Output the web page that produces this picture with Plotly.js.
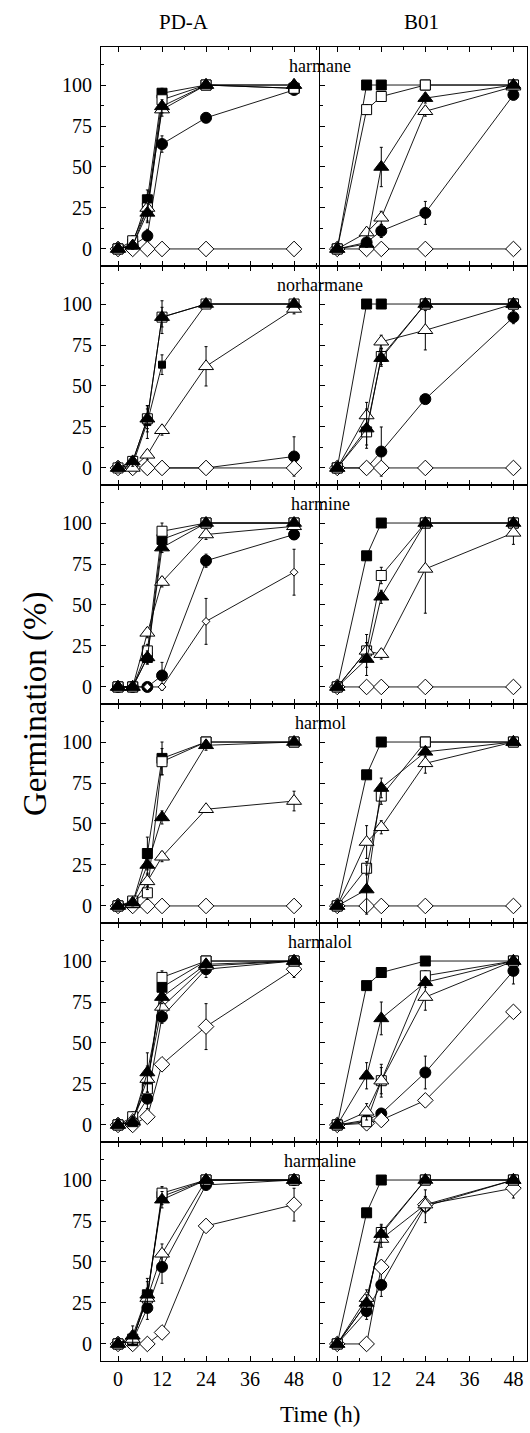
<!DOCTYPE html>
<html>
<head>
<meta charset="utf-8">
<script src="https://cdn.plot.ly/plotly-3.0.1.min.js"></script>
<style>html,body{margin:0;padding:0;background:#fff}#chart{width:530px;height:1433px}</style>
</head>
<body>
<div id="chart"></div>
<script>
// ---- data ----
const timesPDA = [0, 4, 8, 12, 24, 48];
const timesB01 = [0, 8, 12, 24, 48];
const compounds = ['harmane', 'norharmane', 'harmine', 'harmol', 'harmalol', 'harmaline'];
const columns = ['PD-A', 'B01'];
const xTickVals = [0, 12, 24, 36, 48];
const yTickVals = [0, 25, 50, 75, 100];
// series order: filled square, open square, filled triangle, open triangle, filled circle, open diamond
const seriesNames = ['filled square', 'open square', 'filled triangle', 'open triangle', 'filled circle', 'open diamond'];

const harmane_PDA = [
  [0, 3, 30, 95, 100, 98],
  [0, 5, 25, 91, 100, 98],
  [0, 2, 22, 87, 100, 100],
  [0, 2, 25, 85, 100, 100],
  [0, 2, 8, 64, 80, 97],
  [0, 0, 0, 0, 0, 0]];
const harmane_B01 = [
  [0, 100, 100, 100, 100],
  [0, 85, 93, 100, 100],
  [0, 3, 50, 92, 100],
  [0, 10, 19, 84, 99],
  [0, 4, 11, 22, 94],
  [0, 0, 0, 0, 0]];
const norharmane_PDA = [
  [0, 2, 28, 63, 100, 100],
  [0, 4, 30, 92, 100, 100],
  [0, 4, 30, 92, 100, 100],
  [0, 0, 8, 23, 62, 97],
  [0, 0, 0, 0, 0, 7],
  [0, 0, 0, 0, 0, 0]];
const norharmane_B01 = [
  [0, 100, 100, 100, 100],
  [0, 22, 68, 100, 100],
  [0, 24, 67, 100, 100],
  [0, 32, 77, 84, 100],
  [0, 0, 10, 42, 92],
  [0, 0, 0, 0, 0]];
const harmine_PDA = [
  [0, 0, 18, 90, 100, 100],
  [0, 0, 22, 95, 100, 100],
  [0, 0, 18, 85, 100, 100],
  [0, 0, 33, 64, 93, 98],
  [0, 0, 0, 7, 77, 93],
  [0, 0, 0, 0, 40, 70]];
const harmine_B01 = [
  [0, 80, 100, 100, 100],
  [0, 22, 68, 100, 100],
  [0, 17, 55, 100, 100],
  [0, 22, 20, 72, 94],
  [null, null, null, null, null],
  [0, 0, 0, 0, 0]];
const harmol_PDA = [
  [0, 2, 32, 90, 100, 100],
  [0, 3, 8, 88, 100, 100],
  [0, 2, 25, 54, 98, 100],
  [0, 1, 15, 30, 59, 64],
  [null, null, null, null, null, null],
  [0, 0, 0, 0, 0, 0]];
const harmol_B01 = [
  [0, 80, 100, 100, 100],
  [0, 23, 67, 100, 100],
  [0, 10, 72, 94, 100],
  [0, 39, 48, 87, 100],
  [null, null, null, null, null],
  [0, 0, 0, 0, 0]];
const harmalol_PDA = [
  [0, 2, 25, 84, 100, 100],
  [0, 5, 22, 90, 100, 100],
  [0, 2, 32, 78, 98, 100],
  [0, 3, 28, 72, 97, 100],
  [0, 2, 16, 66, 95, 100],
  [0, 0, 5, 37, 60, 95]];
const harmalol_B01 = [
  [0, 85, 93, 100, 100],
  [0, 2, 27, 91, 100],
  [0, 30, 65, 87, 100],
  [0, 8, 27, 78, 100],
  [0, 3, 7, 32, 94],
  [0, 1, 3, 15, 69]];
const harmaline_PDA = [
  [0, 2, 30, 90, 100, 100],
  [0, 3, 28, 92, 100, 100],
  [0, 5, 30, 88, 100, 100],
  [0, 3, 28, 55, 100, 100],
  [0, 2, 22, 47, 97, 100],
  [0, 0, 0, 7, 72, 85]];
const harmaline_B01 = [
  [0, 80, 100, 100, 100],
  [0, 25, 68, 100, 100],
  [0, 25, 67, 100, 100],
  [0, 28, 64, 85, 100],
  [0, 20, 36, 84, 100],
  [0, 0, 47, 85, 95]];

// error bars (same shape)
const harmane_PDA_err = [
  [0, 2, 6, 3, 0, 2],
  [0, 3, 8, 4, 0, 2],
  [0, 2, 6, 4, 0, 0],
  [0, 2, 5, 4, 0, 0],
  [0, 2, 4, 5, 2, 2],
  [0, 0, 0, 0, 0, 0]];
const harmane_B01_err = [
  [0, 0, 0, 0, 0],
  [0, 3, 3, 0, 2],
  [0, 2, 12, 3, 0],
  [0, 3, 4, 3, 2],
  [0, 3, 4, 7, 3],
  [0, 0, 0, 0, 0]];
const norharmane_PDA_err = [
  [0, 2, 10, 6, 0, 0],
  [0, 2, 6, 6, 0, 0],
  [0, 3, 8, 10, 0, 0],
  [0, 0, 3, 3, 12, 3],
  [0, 0, 0, 0, 0, 12],
  [0, 0, 0, 0, 0, 4]];
const norharmane_B01_err = [
  [0, 0, 0, 0, 0],
  [0, 8, 5, 0, 0],
  [0, 12, 5, 0, 0],
  [0, 8, 4, 12, 0],
  [0, 0, 15, 0, 4],
  [0, 0, 0, 0, 0]];
const harmine_PDA_err = [
  [0, 0, 4, 3, 0, 0],
  [0, 0, 4, 5, 0, 0],
  [0, 0, 4, 3, 0, 0],
  [0, 0, 3, 3, 3, 2],
  [0, 0, 0, 8, 4, 3],
  [0, 0, 0, 2, 14, 14]];
const harmine_B01_err = [
  [0, 0, 0, 0, 0],
  [0, 10, 5, 0, 0],
  [0, 10, 4, 0, 0],
  [0, 5, 3, 27, 7],
  [0, 0, 0, 0, 0],
  [0, 0, 0, 0, 0]];
const harmol_PDA_err = [
  [0, 2, 10, 10, 0, 0],
  [0, 2, 4, 8, 0, 0],
  [0, 2, 6, 4, 3, 0],
  [0, 1, 5, 3, 2, 6],
  [0, 0, 0, 0, 0, 0],
  [0, 0, 0, 0, 0, 0]];
const harmol_B01_err = [
  [0, 0, 0, 0, 0],
  [0, 4, 5, 0, 0],
  [0, 15, 6, 3, 0],
  [0, 10, 4, 6, 0],
  [0, 0, 0, 0, 0],
  [0, 0, 0, 0, 0]];
const harmalol_PDA_err = [
  [0, 2, 10, 4, 0, 0],
  [0, 3, 6, 4, 0, 0],
  [0, 2, 12, 4, 3, 0],
  [0, 2, 8, 4, 3, 0],
  [0, 2, 6, 4, 5, 0],
  [0, 0, 3, 3, 14, 5]];
const harmalol_B01_err = [
  [0, 2, 2, 0, 0],
  [0, 2, 10, 3, 0],
  [0, 8, 10, 3, 0],
  [0, 5, 8, 8, 0],
  [0, 3, 3, 10, 8],
  [0, 2, 2, 2, 0]];
const harmaline_PDA_err = [
  [0, 2, 10, 5, 0, 0],
  [0, 2, 6, 4, 0, 0],
  [0, 6, 8, 5, 0, 0],
  [0, 3, 6, 6, 0, 0],
  [0, 2, 7, 10, 3, 0],
  [0, 0, 0, 0, 0, 10]];
const harmaline_B01_err = [
  [0, 0, 0, 0, 0],
  [0, 4, 5, 0, 0],
  [0, 5, 5, 0, 0],
  [0, 5, 5, 5, 0],
  [0, 5, 7, 10, 0],
  [0, 0, 4, 4, 6]];

const panelData = [
  [harmane_PDA, harmane_B01], [norharmane_PDA, norharmane_B01], [harmine_PDA, harmine_B01],
  [harmol_PDA, harmol_B01], [harmalol_PDA, harmalol_B01], [harmaline_PDA, harmaline_B01]];
const panelErr = [
  [harmane_PDA_err, harmane_B01_err], [norharmane_PDA_err, norharmane_B01_err], [harmine_PDA_err, harmine_B01_err],
  [harmol_PDA_err, harmol_B01_err], [harmalol_PDA_err, harmalol_B01_err], [harmaline_PDA_err, harmaline_B01_err]];

// ---- styling ----
const W = 530, H = 1433;
const FONT = 'Liberation Serif';
const styles = [
  {symbol: 'square', fill: '#000', size: 10},
  {symbol: 'square', fill: '#fff', size: 10},
  {symbol: 'triangle-up', fill: '#000', size: 13},
  {symbol: 'triangle-up', fill: '#fff', size: 13},
  {symbol: 'circle', fill: '#000', size: 11},
  {symbol: 'diamond', fill: '#fff', size: 12}];
const drawOrder = [4, 5, 0, 1, 3, 2];

const colX = [[101, 319], [320, 527]];
const xRanges = [[-4.64, 54.8], [-4.7, 51.7]];
const panelTop = 47, panelH = 219;
const yRange = [-10.4, 123.2];

const traces = [];
const layout = {
  width: W, height: H,
  margin: {l: 0, r: 0, t: 0, b: 0},
  paper_bgcolor: '#fff', plot_bgcolor: '#fff',
  showlegend: false,
  font: {family: FONT, size: 20, color: '#000'},
  annotations: []
};

for (let r = 0; r < 6; r++) {
  for (let c = 0; c < 2; c++) {
    const n = r * 2 + c + 1;
    const xa = 'x' + (n === 1 ? '' : n), ya = 'y' + (n === 1 ? '' : n);
    const times = c === 0 ? timesPDA : timesB01;
    const data = panelData[r][c], err = panelErr[r][c];
    drawOrder.forEach(s => {
      const st = styles[s];
      let size = st.size;
      if (r === 2 && c === 0 && s === 5) size = 6;
      if (r === 1 && c === 0 && s === 0) size = 7;
      traces.push({
        type: 'scatter', mode: 'lines+markers', name: seriesNames[s],
        x: times, y: data[s], xaxis: xa, yaxis: ya,
        line: {color: '#000', width: 0.9},
        marker: {symbol: st.symbol, size: size, color: st.fill, line: {color: '#000', width: 1}},
        error_y: {type: 'data', array: err[s], visible: true, color: '#000', thickness: 1, width: 1.5},
        cliponaxis: false
      });
    });
    const top = panelTop + r * panelH, bot = top + panelH;
    layout['xaxis' + (n === 1 ? '' : n)] = {
      domain: [colX[c][0] / W, colX[c][1] / W], anchor: ya,
      range: xRanges[c], tickvals: xTickVals, ticktext: xTickVals.map(String),
      showticklabels: r === 5, ticks: 'inside', ticklen: 5, tickwidth: 1, tickcolor: '#000',
      minor: {dtick: 6, tick0: 0, ticks: 'inside', ticklen: 3, tickcolor: '#000'},
      showline: true, linecolor: '#000', linewidth: 1, mirror: 'ticks',
      showgrid: false, zeroline: false, fixedrange: true,
      tickfont: {family: FONT, size: 20, color: '#000'}
    };
    layout['yaxis' + (n === 1 ? '' : n)] = {
      domain: [1 - bot / H, 1 - top / H], anchor: xa,
      range: yRange, tickvals: yTickVals, ticktext: yTickVals.map(String),
      showticklabels: c === 0, ticks: 'inside', ticklen: 5, tickwidth: 1, tickcolor: '#000',
      minor: {dtick: 12.5, tick0: 0, ticks: 'inside', ticklen: 3, tickcolor: '#000'},
      showline: true, linecolor: '#000', linewidth: 1, mirror: true,
      showgrid: false, zeroline: false, fixedrange: true,
      ticklabelstandoff: 4,
      tickfont: {family: FONT, size: 20, color: '#000'}
    };
  }
  // compound label
  layout.annotations.push({
    text: compounds[r], xref: 'paper', yref: 'paper', x: 320 / W, y: 1 - (panelTop + r * panelH + 19) / H,
    xanchor: 'center', yanchor: 'middle', showarrow: false,
    font: {family: FONT, size: 18, color: '#000'}
  });
}

// column headers
[[184, 22], [421, 22]].forEach((p, i) => {
  layout.annotations.push({
    text: columns[i], xref: 'paper', yref: 'paper', x: p[0] / W, y: 1 - p[1] / H,
    xanchor: 'center', yanchor: 'middle', showarrow: false,
    font: {family: FONT, size: 21, color: '#000'}
  });
});
// axis titles
layout.annotations.push({
  text: 'Germination (%)', xref: 'paper', yref: 'paper', x: 35 / W, y: 1 - 704 / H,
  xanchor: 'center', yanchor: 'middle', textangle: -90, showarrow: false,
  font: {family: FONT, size: 33, color: '#000'}
});
layout.annotations.push({
  text: 'Time (h)', xref: 'paper', yref: 'paper', x: 320 / W, y: 1 - 1414 / H,
  xanchor: 'center', yanchor: 'middle', showarrow: false,
  font: {family: FONT, size: 23, color: '#000'}
});

Plotly.newPlot('chart', traces, layout, {staticPlot: true, displayModeBar: false});
</script>
</body>
</html>
